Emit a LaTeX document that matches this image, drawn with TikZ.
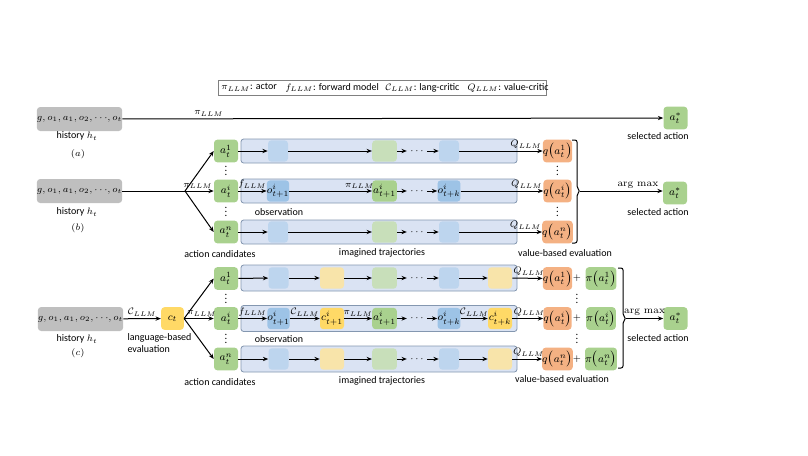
\documentclass[tikz,border=0pt]{standalone}
\usepackage{fontspec}
\setmainfont{Carlito}
\newfontfamily\lmr{Latin Modern Roman}
\usetikzlibrary{arrows.meta}
\definecolor{histgray}{HTML}{BFBFBF}
\definecolor{agreen}{HTML}{A9D18E}
\definecolor{agreenf}{HTML}{C8DFBA}
\definecolor{oblue}{HTML}{9DC3E6}
\definecolor{obluef}{HTML}{BDD5EE}
\definecolor{cyel}{HTML}{FFD966}
\definecolor{cyelf}{HTML}{F8E4AA}
\definecolor{qorange}{HTML}{F4B183}
\definecolor{bandfill}{HTML}{DAE3F3}
\definecolor{banddraw}{HTML}{8497B0}
\newcommand\vdt{\vbox{\baselineskip=3pt \lineskiplimit=0pt \hbox{.}\hbox{.}\hbox{.}}}
\begin{document}
\begin{tikzpicture}[x=0.75pt,y=-0.75pt,
  every node/.style={font=\fontsize{7.5pt}{9pt}\selectfont, inner sep=0pt},
  rbox/.style={rounded corners=2.5pt, minimum width=18pt, minimum height=17pt, font=\fontsize{8.5pt}{10pt}\selectfont},
  hist/.style={rbox, fill=histgray, minimum width=61pt, minimum height=18pt, font=\fontsize{7.1pt}{9pt}\selectfont},
  act/.style={rbox, fill=agreen},
  actin/.style={rbox, fill=agreen, minimum height=16pt, minimum width=18.5pt},
  actfd/.style={actin, fill=agreenf},
  obs/.style={rbox, fill=oblue, minimum width=15pt, minimum height=16pt},
  obsfd/.style={obs, fill=obluef},
  crit/.style={rbox, fill=cyel, minimum height=16pt},
  critfd/.style={crit, fill=cyelf},
  qval/.style={rbox, fill=qorange, minimum width=20pt},
  pol/.style={rbox, fill=agreen, minimum width=21pt},
  bandb/.style={fill=bandfill, draw=banddraw, line width=0.6pt, rounded corners=2pt, minimum width=207pt, minimum height=18pt},
  bandc/.style={bandb, minimum height=19.5pt},
  arr/.style={-{Stealth[length=4pt,width=3.2pt]}, line width=0.75pt},
  lnk/.style={line width=0.75pt},
  lab/.style={above=1.5pt},
  dts/.style={inner xsep=2.5pt},
  vd/.style={font=\fontsize{8pt}{9pt}\selectfont},
]
\useasboundingbox (0,0) rectangle (808,455);

% legend
\node[draw=gray, line width=0.5pt, minimum width=246pt, minimum height=11.25pt] (leg) at (382,87.5) {};
\node[anchor=west] (leg1) at (221,87.5) {$\pi_{LLM}$: actor};
\node[anchor=west] (leg2) at (285,87.5) {$f_{LLM}$: forward model};
\node[anchor=west] (leg3) at (385,87.5) {$\mathcal{C}_{LLM}$: lang-critic};
\node[anchor=west] (leg4) at (467,87.5) {$Q_{LLM}$: value-critic};

% ---------------- (a)
\node[hist] (ha) at (79.5,119) {$g, o_1, a_1, o_2, \cdots\!, o_t$};
\node (hla) at (77,136) {history $h_t$};
\node (la) at (78,154) {$(a)$};
\node[act] (sa) at (675.5,118) {$a_t^*$};
\node (sla) at (658,136) {selected action};
\draw[arr] (ha) -- node[lab, pos=0.16]{$\pi_{LLM}$} (sa);

% ---------------- (b)
\node[hist] (hb) at (79.5,191) {$g, o_1, a_1, o_2, \cdots\!, o_t$};
\node (hlb) at (77,212) {history $h_t$};
\node (lb) at (78,228) {$(b)$};
\coordinate (fanb) at (185,191);

% row 1
\node[bandb] (bb1) at (379,151) {};
\node[act] (ab1) at (226,151) {$a_t^1$};
\node[obsfd] (ob1) at (278,151) {};
\node[actfd] (a2b1) at (384.5,151) {};
\node[dts] (db1) at (417,151) {$\cdots$};
\node[obsfd] (okb1) at (449,151) {};
\node[qval] (qb1) at (557.5,151) {$q\bigl(a_t^1\bigr)$};
\draw[arr] (ab1) -- (ob1);
\draw[arr] (ob1) -- (a2b1);
\draw[arr] (a2b1) -- (db1);
\draw[arr] (db1) -- (okb1);
\draw[arr] (okb1) -- node[lab,pos=0.8]{$Q_{LLM}$} (qb1);

% row i
\node[bandb] (bbi) at (379,191) {};
\node[act] (abi) at (226,191) {$a_t^i$};
\node[obs] (obi) at (278,191) {$o_{t+1}^i$};
\node[actin] (a2bi) at (384.5,191) {$a_{t+1}^i$};
\node[dts] (dbi) at (417,191) {$\cdots$};
\node[obs] (okbi) at (449,191) {$o_{t+k}^i$};
\node[qval] (qbi) at (557.5,191) {$q\bigl(a_t^i\bigr)$};
\draw[arr] (abi) -- node[lab]{$f_{LLM}$} (obi);
\draw[arr] (obi) -- node[lab,pos=0.85]{$\pi_{LLM}$} (a2bi);
\draw[arr] (a2bi) -- (dbi);
\draw[arr] (dbi) -- (okbi);
\draw[arr] (okbi) -- node[lab,pos=0.8]{$Q_{LLM}$} (qbi);

% row n
\node[bandb] (bbn) at (379,232) {};
\node[act] (abn) at (226,232) {$a_t^n$};
\node[obsfd] (obn) at (278,232) {};
\node[actfd] (a2bn) at (384.5,232) {};
\node[dts] (dbn) at (417,232) {$\cdots$};
\node[obsfd] (okbn) at (449,232) {};
\node[qval] (qbn) at (557.5,232) {$q\bigl(a_t^n\bigr)$};
\draw[arr] (abn) -- (obn);
\draw[arr] (obn) -- (a2bn);
\draw[arr] (a2bn) -- (dbn);
\draw[arr] (dbn) -- (okbn);
\draw[arr] (okbn) -- node[lab,pos=0.8]{$Q_{LLM}$} (qbn);

\draw[lnk] (hb) -- (fanb);
\draw[arr] (fanb) -- (ab1.west);
\draw[arr] (fanb) -- node[lab, pos=0.45]{$\pi_{LLM}$} (abi);
\draw[arr] (fanb) -- (abn.west);

\node[vd] (vb1) at (226,171) {\vdt};
\node[vd] (vb2) at (226,212) {\vdt};
\node[vd] (vq1) at (557.5,171) {\vdt};
\node[vd] (vq2) at (557.5,212) {\vdt};

\node (obsb) at (279,212) {observation};
\node (acb) at (220,254) {action candidates};
\node (itb) at (382,253) {imagined trajectories};
\node (vbe) at (565,253) {value-based evaluation};

\draw[lnk, rounded corners=1.5pt] (572,140) -- (577,140) -- (577,188) -- (580,191) -- (577,194) -- (577,243) -- (572,243);
\coordinate (brb) at (580,191);
\node[act] (sb) at (675,193) {$a_t^*$};
\node (slb) at (658,212) {selected action};
\draw[arr] (brb) -- node[lab,pos=0.7]{\lmr arg max} (sb.west |- brb);

% ---------------- (c)
\node[hist] (hc) at (80.5,319) {$g, o_1, a_1, o_2, \cdots\!, o_t$};
\node (hlc) at (77,339) {history $h_t$};
\node (lc) at (78,353) {$(c)$};
\node[crit, minimum width=17pt, minimum height=17pt] (ct) at (172.5,318.5) {$c_t$};
\draw[arr] (hc) -- node[lab]{$\mathcal{C}_{LLM}$} (ct);
\node[align=left] (lbe) at (159.5,343) {language-based\\evaluation};

% row 1
\node[bandc] (bc1) at (379,278) {};
\node[act] (ac1) at (226,278.5) {$a_t^1$};
\node[obsfd] (oc1) at (278.5,278) {};
\node[critfd] (cc1) at (332,278) {};
\node[actfd] (a2c1) at (384.5,278) {};
\node[dts] (dc1) at (417,278) {$\cdots$};
\node[obsfd] (okc1) at (449,278) {};
\node[critfd] (ckc1) at (500,278) {};
\node[qval] (qc1) at (557.5,278.5) {$q\bigl(a_t^1\bigr)$};
\node (pc1) at (577,278.5) {$+$};
\node[pol] (pic1) at (601,278.5) {$\pi\bigl(a_t^1\bigr)$};
\draw[arr] (ac1) -- (oc1);
\draw[arr] (oc1) -- (cc1);
\draw[arr] (cc1) -- (a2c1);
\draw[arr] (a2c1) -- (dc1);
\draw[arr] (dc1) -- (okc1);
\draw[arr] (okc1) -- (ckc1);
\draw[arr] (ckc1) -- node[lab,pos=0.55]{$Q_{LLM}$} (qc1);

% row i
\node[bandc] (bci) at (379,318.5) {};
\node[act] (aci) at (226,318.5) {$a_t^i$};
\node[obs] (oci) at (278.5,318.5) {$o_{t+1}^i$};
\node[crit] (cci) at (332,318.5) {$c_{t+1}^i$};
\node[actin] (a2ci) at (384.5,318.5) {$a_{t+1}^i$};
\node[dts] (dci) at (417,318.5) {$\cdots$};
\node[obs] (okci) at (449,318.5) {$o_{t+k}^i$};
\node[crit] (ckci) at (500,318.5) {$c_{t+k}^i$};
\node[qval] (qci) at (557.5,318.5) {$q\bigl(a_t^i\bigr)$};
\node (pci) at (577,318.5) {$+$};
\node[pol] (pici) at (601,318.5) {$\pi\bigl(a_t^i\bigr)$};
\draw[arr] (aci) -- node[lab]{$f_{LLM}$} (oci);
\draw[arr] (oci) -- node[lab]{$\mathcal{C}_{LLM}$} (cci);
\draw[arr] (cci) -- node[lab]{$\pi_{LLM}$} (a2ci);
\draw[arr] (a2ci) -- (dci);
\draw[arr] (dci) -- (okci);
\draw[arr] (okci) -- node[lab]{$\mathcal{C}_{LLM}$} (ckci);
\draw[arr] (ckci) -- node[lab,pos=0.55]{$Q_{LLM}$} (qci);

% row n
\node[bandc] (bcn) at (379,359) {};
\node[act] (acn) at (226,359) {$a_t^n$};
\node[obsfd] (ocn) at (278.5,359) {};
\node[critfd] (ccn) at (332,359) {};
\node[actfd] (a2cn) at (384.5,359) {};
\node[dts] (dcn) at (417,359) {$\cdots$};
\node[obsfd] (okcn) at (449,359) {};
\node[critfd] (ckcn) at (500,359) {};
\node[qval] (qcn) at (557.5,359) {$q\bigl(a_t^n\bigr)$};
\node (pcn) at (577,359) {$+$};
\node[pol] (picn) at (601,359) {$\pi\bigl(a_t^n\bigr)$};
\draw[arr] (acn) -- (ocn);
\draw[arr] (ocn) -- (ccn);
\draw[arr] (ccn) -- (a2cn);
\draw[arr] (a2cn) -- (dcn);
\draw[arr] (dcn) -- (okcn);
\draw[arr] (okcn) -- (ckcn);
\draw[arr] (ckcn) -- node[lab,pos=0.55]{$Q_{LLM}$} (qcn);

\draw[arr] (ct.east) -- (ac1.west);
\draw[arr] (ct.east) -- node[lab, pos=0.6]{$\pi_{LLM}$} (aci);
\draw[arr] (ct.east) -- (acn.west);

\node[vd] (vc1) at (226,299) {\vdt};
\node[vd] (vc2) at (226,339) {\vdt};
\node[vd] (vqc1) at (577,299) {\vdt};
\node[vd] (vqc2) at (577,339) {\vdt};

\node (obsc) at (279,339) {observation};
\node (acc) at (220,382) {action candidates};
\node (itc) at (382,381) {imagined trajectories};
\node (vce) at (562,379) {value-based evaluation};

\draw[lnk, rounded corners=1.5pt] (618,268) -- (623,268) -- (623,315.5) -- (626,318.5) -- (623,321.5) -- (623,368) -- (618,368);
\coordinate (brc) at (626,318.5);
\node[act] (sc) at (675.5,318.5) {$a_t^*$};
\node (slc) at (658,338) {selected action};
\draw[arr] (brc) -- node[lab]{\lmr arg max} (sc);
\end{tikzpicture}
\end{document}
